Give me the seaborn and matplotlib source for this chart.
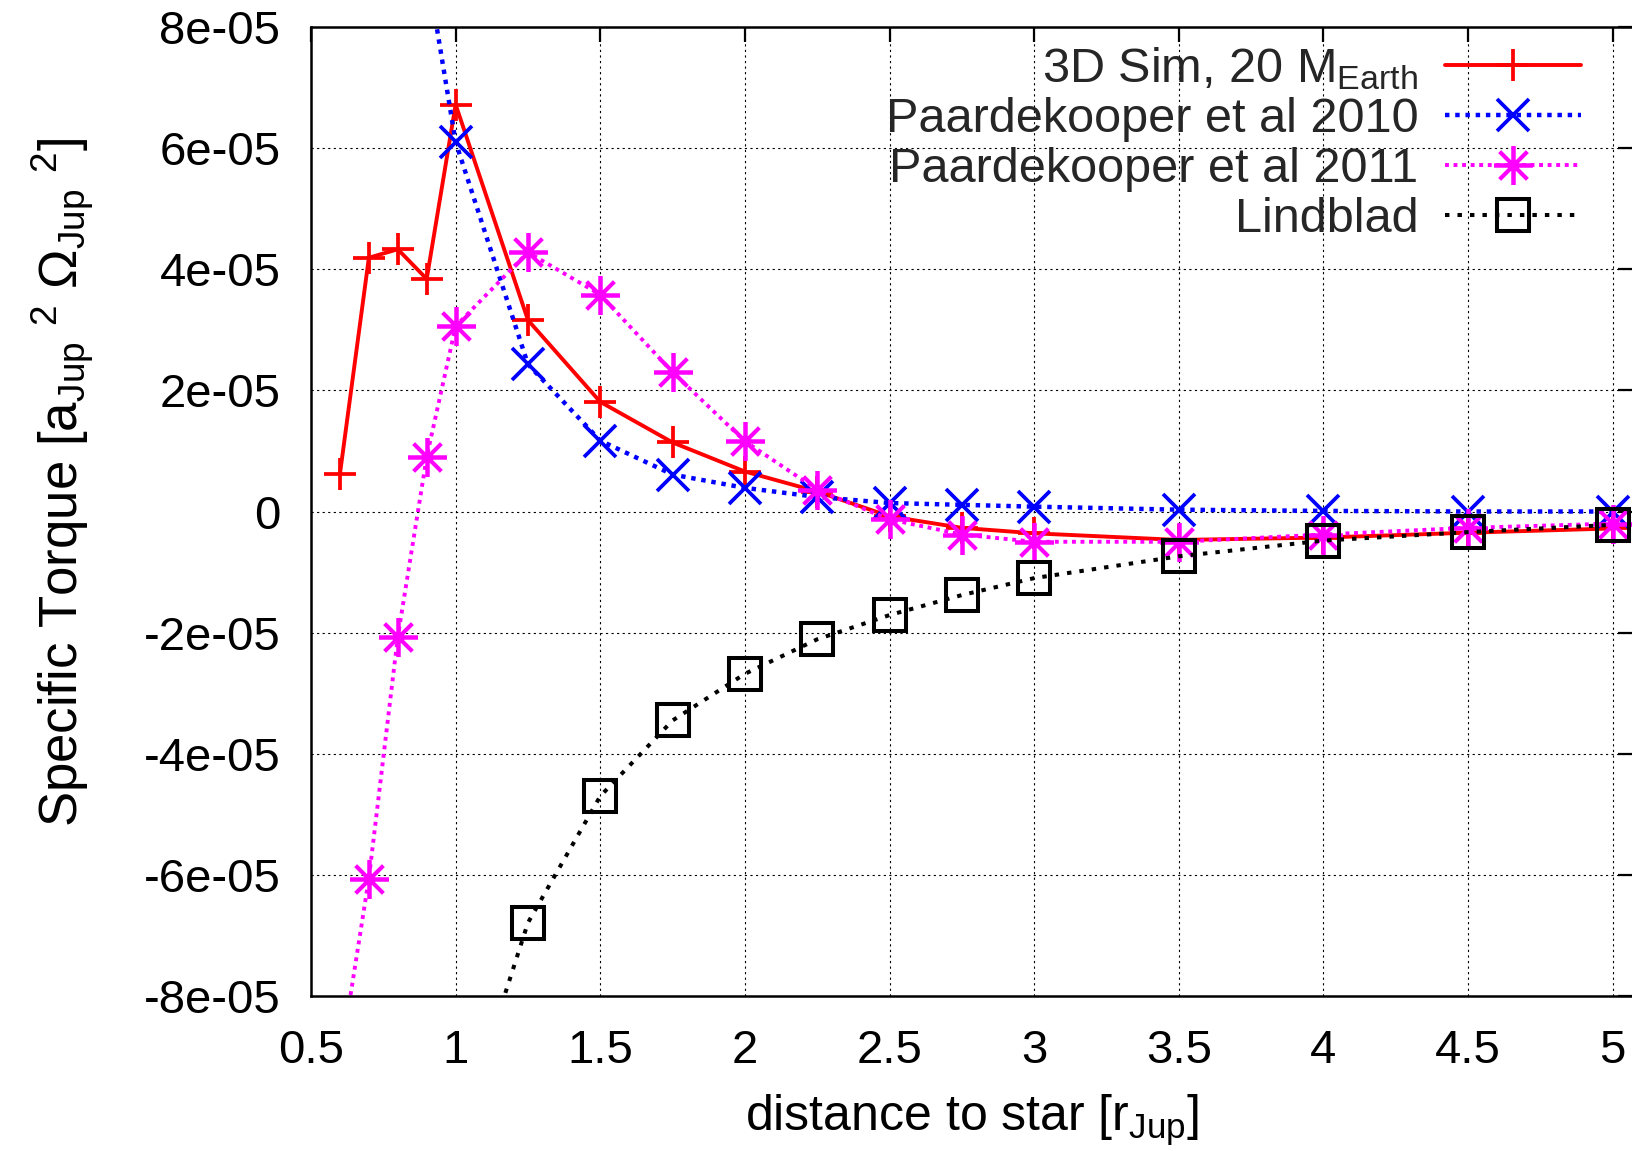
import numpy as np
import pandas as pd
import matplotlib
matplotlib.use("Agg")
import matplotlib.pyplot as plt
import seaborn as sns

# ---- data ----
sim_x = [0.6, 0.7, 0.8, 0.9, 1.0, 1.25, 1.5, 1.75, 2.0, 2.25, 2.5, 2.75, 3.0, 3.5, 4.0, 4.5, 5.0]
sim_y = [0.62e-5, 4.19e-5, 4.33e-5, 3.84e-5, 6.72e-5, 3.16e-5, 1.81e-5, 1.14e-5, 0.66e-5,
         0.33e-5, -0.08e-5, -0.27e-5, -0.36e-5, -0.47e-5, -0.43e-5, -0.35e-5, -0.28e-5]

p10_x = [0.9, 1.0, 1.25, 1.5, 1.75, 2.0, 2.25, 2.5, 2.75, 3.0, 3.5, 4.0, 4.5, 5.0]
p10_y = [9.0e-5, 6.1e-5, 2.43e-5, 1.17e-5, 0.61e-5, 0.39e-5, 0.24e-5, 0.14e-5, 0.11e-5,
         0.08e-5, 0.03e-5, 0.01e-5, 0.0, 0.0]

p11_x = [0.6, 0.7, 0.8, 0.9, 1.0, 1.25, 1.5, 1.75, 2.0, 2.25, 2.5, 2.75, 3.0, 3.5, 4.0, 4.5, 5.0]
p11_y = [-9.1e-5, -6.06e-5, -2.07e-5, 0.90e-5, 3.06e-5, 4.28e-5, 3.58e-5, 2.30e-5, 1.16e-5,
         0.36e-5, -0.13e-5, -0.38e-5, -0.50e-5, -0.50e-5, -0.38e-5, -0.27e-5, -0.20e-5]

lind_x = [1.0, 1.25, 1.5, 1.75, 2.0, 2.25, 2.5, 2.75, 3.0, 3.5, 4.0, 4.5, 5.0]
lind_y = [-10.5e-5, -6.79e-5, -4.70e-5, -3.45e-5, -2.68e-5, -2.11e-5, -1.71e-5, -1.38e-5,
          -1.10e-5, -0.74e-5, -0.48e-5, -0.34e-5, -0.22e-5]

x_ticks = [0.5, 1, 1.5, 2, 2.5, 3, 3.5, 4, 4.5, 5]
x_tick_labels = ["0.5", "1", "1.5", "2", "2.5", "3", "3.5", "4", "4.5", "5"]
y_ticks = [-8e-5, -6e-5, -4e-5, -2e-5, 0, 2e-5, 4e-5, 6e-5, 8e-5]
y_tick_labels = ["-8e-05", "-6e-05", "-4e-05", "-2e-05", "0", "2e-05", "4e-05", "6e-05", "8e-05"]

labels = [r"3D Sim, 20 M$_{\mathrm{Earth}}$", "Paardekooper et al 2010",
          "Paardekooper et al 2011", "Lindblad"]

# ---- style ----
sns.set_theme(style="white")
plt.rcParams["font.family"] = ["Liberation Sans", "DejaVu Sans"]
plt.rcParams["mathtext.fontset"] = "custom"
plt.rcParams["mathtext.rm"] = "Liberation Sans"
plt.rcParams["mathtext.it"] = "Liberation Sans:italic"
plt.rcParams["mathtext.bf"] = "Liberation Sans:bold"

FS = 34
fig = plt.figure(figsize=(16.33, 11.51), dpi=100)
ax = fig.add_axes([311 / 1633, 1 - 996 / 1151, 1 - 311 / 1633, (996 - 27) / 1151])

mew = 2.7
sns.lineplot(x=sim_x, y=sim_y, ax=ax, color="#ff0000", linewidth=2.8, linestyle="-",
             marker="+", markersize=23, markeredgewidth=mew, markeredgecolor="#ff0000",
             label=labels[0], sort=False)
sns.lineplot(x=p10_x, y=p10_y, ax=ax, color="#0000ff", linewidth=3.2, linestyle=(0, (1, 1.3)),
             marker="x", markersize=23, markeredgewidth=mew, markeredgecolor="#0000ff",
             label=labels[1], sort=False)
sns.lineplot(x=p11_x, y=p11_y, ax=ax, color="#ff00ff", linewidth=2.8, linestyle=(0, (1, 1.2)),
             marker=(8, 2, 0), markersize=28, markeredgewidth=mew, markeredgecolor="#ff00ff",
             label=labels[2], sort=False)
sns.lineplot(x=lind_x, y=lind_y, ax=ax, color="black", linewidth=2.9, linestyle=(0, (1.1, 2.0)),
             marker="s", markersize=22.5, markeredgewidth=2.9, markerfacecolor="none",
             markeredgecolor="black", label=labels[3], sort=False)

ax.set_xlim(0.5, 5.07)
ax.set_ylim(-8e-5, 8e-5)
ax.set_xticks(x_ticks)
ax.set_xticklabels(x_tick_labels)
ax.set_yticks(y_ticks)
ax.set_yticklabels(y_tick_labels)

ax.grid(True, color="black", linestyle=(0, (2, 3)), linewidth=0.8)
ax.set_axisbelow(True)
for s in ax.spines.values():
    s.set_color("black")
    s.set_linewidth(1.8)

ax.tick_params(axis="both", which="major", direction="in", length=11, width=1.6,
               top=True, right=True, labelsize=FS, colors="black")
ax.tick_params(axis="x", pad=24)
ax.tick_params(axis="y", pad=22)

ax.set_xlabel(r"distance to star [r$_{\mathrm{Jup}}$]", fontsize=36, color="black")
ax.set_ylabel(r"Specific Torque [a$_{\mathrm{Jup}}$ $^{2}$ $\Omega_{\mathrm{Jup}}$ $^{2}$]",
              fontsize=38, color="black")
ax.xaxis.set_label_coords(0.5, -0.1)
ax.yaxis.set_label_coords(-0.163, 0.53)

leg = ax.legend(loc="upper right", bbox_to_anchor=(0.9645, 0.986), frameon=False, fontsize=35,
                markerfirst=False, labelspacing=0.1, handlelength=2.8, handletextpad=0.55,
                borderaxespad=0.0, borderpad=0.1)

fig.savefig("out.png", dpi=100)
